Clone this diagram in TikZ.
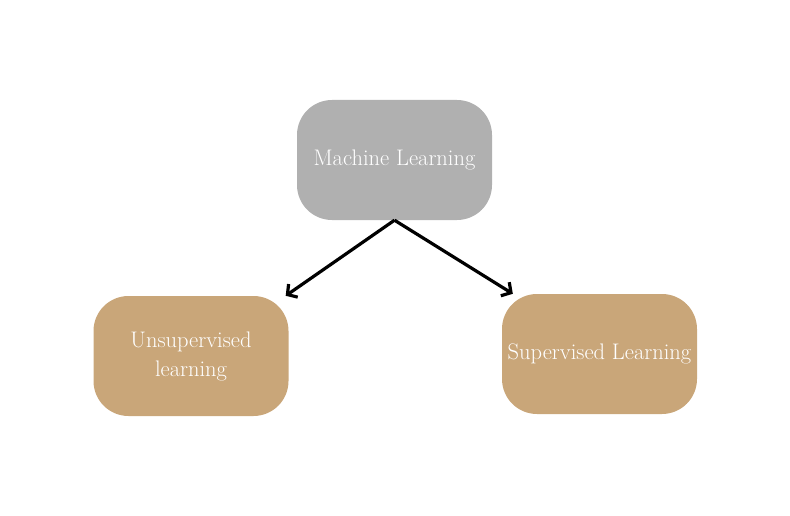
\documentclass[tikz,border=0pt]{standalone}
\usetikzlibrary{arrows.meta}
\definecolor{mlgray}{RGB}{176,176,176}
\definecolor{mltan}{RGB}{201,166,121}
\newcommand\mltextstyle{\fontsize{22.5}{29}\selectfont}
\newcommand\mlboxwidth{195pt}
\newcommand\mlboxheight{120pt}
\tikzset{
  mlbox/.style={rectangle, rounded corners=35pt, minimum width=\mlboxwidth,
    minimum height=\mlboxheight, inner sep=0pt, text=white, align=center,
    font=\mltextstyle},
  mlarrow/.style={line width=3.2pt, -{Straight Barb[length=7pt,width=16pt]}}
}
\begin{document}
\begin{tikzpicture}
    \useasboundingbox (0,0) rectangle (790pt,-516pt);
    \node (ml) [mlbox, fill=mlgray] at (394.5pt,-160pt) {Machine Learning};
    \node (unsup) [mlbox, fill=mltan] at (191pt,-356pt) {Unsupervised\\learning};
    \node (sup) [mlbox, fill=mltan] at (599.5pt,-354pt) {Supervised Learning};
    \draw [mlarrow] (ml.south) -- ([xshift=-3pt]unsup.north east) ;
    \draw [mlarrow] (ml.south) -- ([xshift=11pt]sup.north west) ;
\end{tikzpicture}
\end{document}
